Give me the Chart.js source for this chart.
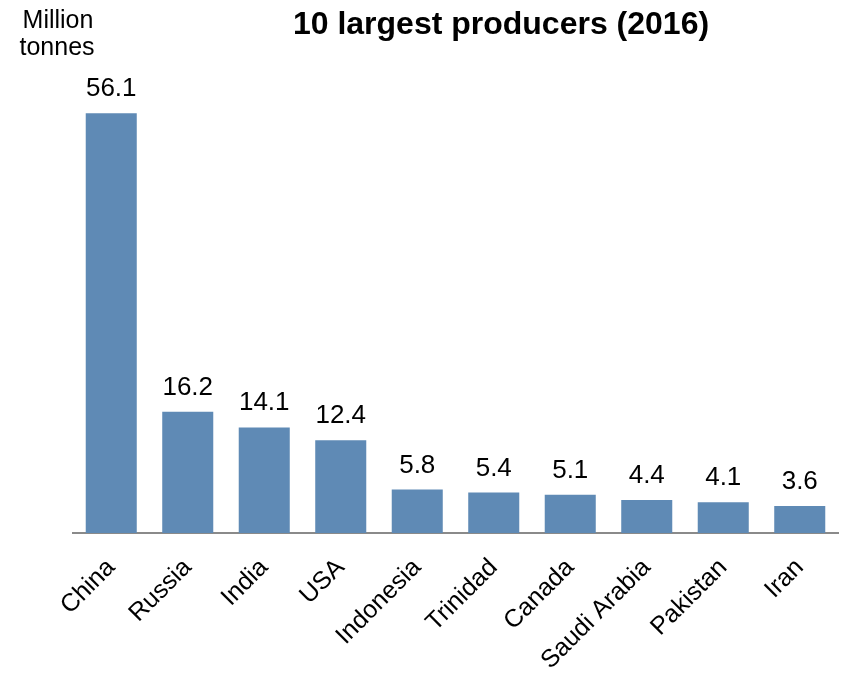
<!DOCTYPE html>
<html>
<head>
<meta charset="utf-8">
<script src="https://cdn.jsdelivr.net/npm/chart.js@4/dist/chart.umd.min.js"></script>
<style>
  html, body { margin: 0; padding: 0; background: #fff; }
  #wrap { width: 844px; height: 675px; }
</style>
</head>
<body>
<div id="wrap"><canvas id="producers"></canvas></div>
<script>
const countries = ['China', 'Russia', 'India', 'USA', 'Indonesia', 'Trinidad', 'Canada', 'Saudi Arabia', 'Pakistan', 'Iran'];
const production = [56.1, 16.2, 14.1, 12.4, 5.8, 5.4, 5.1, 4.4, 4.1, 3.6];
const chartTitle = '10 largest producers (2016)';
const unitLabel = ['Million', 'tonnes'];

const fontFamily = '"Liberation Sans", Arial, sans-serif';

// value labels above bars + title and unit text
const annotate = {
  id: 'annotate',
  afterDatasetsDraw(chart) {
    const ctx = chart.ctx;
    const meta = chart.getDatasetMeta(0);
    ctx.save();
    ctx.fillStyle = '#000';
    ctx.font = '26px ' + fontFamily;
    ctx.textAlign = 'center';
    ctx.textBaseline = 'alphabetic';
    meta.data.forEach((bar, i) => {
      ctx.fillText(production[i].toFixed(1), bar.x, bar.y - 17);
    });

    ctx.font = 'bold 32px ' + fontFamily;
    ctx.fillText(chartTitle, 501, 34);

    ctx.font = '25px ' + fontFamily;
    ctx.fillText(unitLabel[0], 58, 28);
    ctx.fillText(unitLabel[1], 57, 55);
    ctx.restore();
  }
};

new Chart(document.getElementById('producers'), {
  type: 'bar',
  data: {
    labels: countries,
    datasets: [{
      data: production,
      backgroundColor: '#5f8ab5',
      borderWidth: 0,
      categoryPercentage: 1,
      barPercentage: 0.667
    }]
  },
  options: {
    responsive: true,
    maintainAspectRatio: false,
    animation: false,
    layout: { padding: { top: 84, left: 73, right: 6, bottom: 0 } },
    plugins: {
      legend: { display: false },
      tooltip: { enabled: false }
    },
    scales: {
      x: {
        grid: { display: false, drawTicks: false },
        border: { display: true, color: '#8a8a8a', width: 2 },
        ticks: {
          color: '#000',
          font: { size: 25, family: fontFamily },
          minRotation: 45,
          maxRotation: 45,
          padding: 20,
          autoSkip: false
        },
        afterFit(scale) { scale.height = 142; }
      },
      y: {
        display: false,
        min: 0,
        max: 60
      }
    }
  },
  plugins: [annotate]
});
</script>
</body>
</html>
